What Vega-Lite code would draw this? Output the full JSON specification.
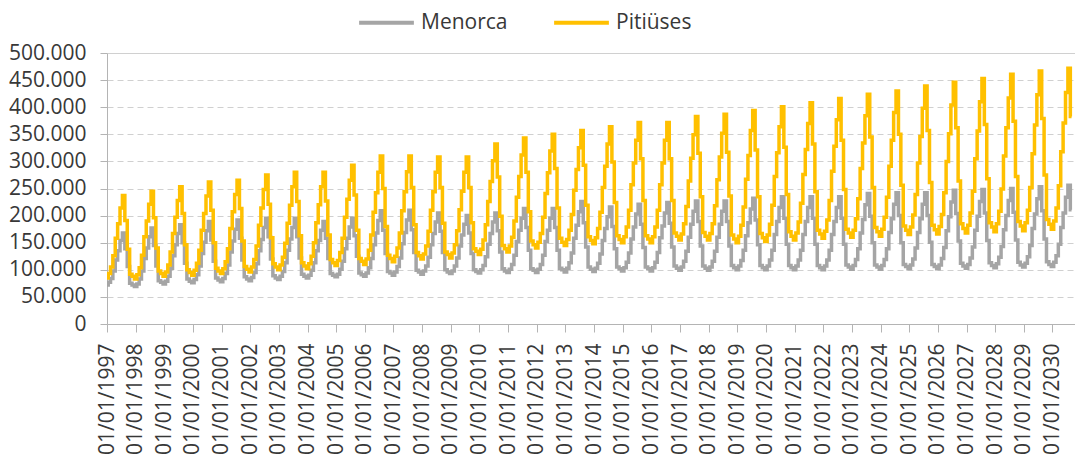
{
"$schema": "https://vega.github.io/schema/vega-lite/v6.json",
"width": 968, "height": 271,
"autosize": {"type": "none"},
"padding": {"left": 107, "top": 53, "right": 0, "bottom": 138},
"background": "white",
"config": {"view": {"stroke": null}, "font": "Open Sans"},
"datasets": {"rows": [
{"t":"1997-01","Menorca":72000,"Pitiüses":85000},{"t":"1997-02","Menorca":77000,"Pitiüses":93000},{"t":"1997-03","Menorca":84000,"Pitiüses":105000},{"t":"1997-04","Menorca":98000,"Pitiüses":126000},{"t":"1997-05","Menorca":118000,"Pitiüses":158000},{"t":"1997-06","Menorca":135000,"Pitiüses":185000},{"t":"1997-07","Menorca":154000,"Pitiüses":214000},{"t":"1997-08","Menorca":168000,"Pitiüses":237000},{"t":"1997-09","Menorca":139000,"Pitiüses":191000},{"t":"1997-10","Menorca":106000,"Pitiüses":138000},{"t":"1997-11","Menorca":75000,"Pitiüses":92000},{"t":"1997-12","Menorca":72000,"Pitiüses":88000},
{"t":"1998-01","Menorca":69000,"Pitiüses":83000},{"t":"1998-02","Menorca":74000,"Pitiüses":91000},{"t":"1998-03","Menorca":83000,"Pitiüses":104000},{"t":"1998-04","Menorca":98000,"Pitiüses":127000},{"t":"1998-05","Menorca":121000,"Pitiüses":161000},{"t":"1998-06","Menorca":140000,"Pitiüses":190000},{"t":"1998-07","Menorca":161000,"Pitiüses":221000},{"t":"1998-08","Menorca":177000,"Pitiüses":245000},{"t":"1998-09","Menorca":145000,"Pitiüses":196000},{"t":"1998-10","Menorca":107000,"Pitiüses":140000},{"t":"1998-11","Menorca":80000,"Pitiüses":98000},{"t":"1998-12","Menorca":77000,"Pitiüses":93000},
{"t":"1999-01","Menorca":74000,"Pitiüses":88000},{"t":"1999-02","Menorca":79000,"Pitiüses":96000},{"t":"1999-03","Menorca":88000,"Pitiüses":109000},{"t":"1999-04","Menorca":103000,"Pitiüses":133000},{"t":"1999-05","Menorca":126000,"Pitiüses":167000},{"t":"1999-06","Menorca":146000,"Pitiüses":197000},{"t":"1999-07","Menorca":167000,"Pitiüses":228000},{"t":"1999-08","Menorca":183000,"Pitiüses":253000},{"t":"1999-09","Menorca":150000,"Pitiüses":204000},{"t":"1999-10","Menorca":112000,"Pitiüses":146000},{"t":"1999-11","Menorca":83000,"Pitiüses":100000},{"t":"1999-12","Menorca":79000,"Pitiüses":95000},
{"t":"2000-01","Menorca":76000,"Pitiüses":90000},{"t":"2000-02","Menorca":82000,"Pitiüses":99000},{"t":"2000-03","Menorca":91000,"Pitiüses":112000},{"t":"2000-04","Menorca":107000,"Pitiüses":136000},{"t":"2000-05","Menorca":130000,"Pitiüses":173000},{"t":"2000-06","Menorca":151000,"Pitiüses":204000},{"t":"2000-07","Menorca":172000,"Pitiüses":236000},{"t":"2000-08","Menorca":189000,"Pitiüses":262000},{"t":"2000-09","Menorca":155000,"Pitiüses":210000},{"t":"2000-10","Menorca":116000,"Pitiüses":150000},{"t":"2000-11","Menorca":85000,"Pitiüses":103000},{"t":"2000-12","Menorca":81000,"Pitiüses":98000},
{"t":"2001-01","Menorca":78000,"Pitiüses":93000},{"t":"2001-02","Menorca":84000,"Pitiüses":102000},{"t":"2001-03","Menorca":93000,"Pitiüses":115000},{"t":"2001-04","Menorca":109000,"Pitiüses":139000},{"t":"2001-05","Menorca":133000,"Pitiüses":176000},{"t":"2001-06","Menorca":153000,"Pitiüses":207000},{"t":"2001-07","Menorca":175000,"Pitiüses":239000},{"t":"2001-08","Menorca":192000,"Pitiüses":265000},{"t":"2001-09","Menorca":158000,"Pitiüses":213000},{"t":"2001-10","Menorca":118000,"Pitiüses":153000},{"t":"2001-11","Menorca":87000,"Pitiüses":106000},{"t":"2001-12","Menorca":83000,"Pitiüses":101000},
{"t":"2002-01","Menorca":80000,"Pitiüses":96000},{"t":"2002-02","Menorca":86000,"Pitiüses":105000},{"t":"2002-03","Menorca":95000,"Pitiüses":119000},{"t":"2002-04","Menorca":111000,"Pitiüses":144000},{"t":"2002-05","Menorca":135000,"Pitiüses":182000},{"t":"2002-06","Menorca":156000,"Pitiüses":214000},{"t":"2002-07","Menorca":178000,"Pitiüses":248000},{"t":"2002-08","Menorca":195000,"Pitiüses":275000},{"t":"2002-09","Menorca":161000,"Pitiüses":221000},{"t":"2002-10","Menorca":120000,"Pitiüses":159000},{"t":"2002-11","Menorca":89000,"Pitiüses":111000},{"t":"2002-12","Menorca":85000,"Pitiüses":105000},
{"t":"2003-01","Menorca":82000,"Pitiüses":100000},{"t":"2003-02","Menorca":88000,"Pitiüses":109000},{"t":"2003-03","Menorca":97000,"Pitiüses":123000},{"t":"2003-04","Menorca":113000,"Pitiüses":149000},{"t":"2003-05","Menorca":136000,"Pitiüses":186000},{"t":"2003-06","Menorca":157000,"Pitiüses":219000},{"t":"2003-07","Menorca":178000,"Pitiüses":253000},{"t":"2003-08","Menorca":195000,"Pitiüses":280000},{"t":"2003-09","Menorca":161000,"Pitiüses":226000},{"t":"2003-10","Menorca":122000,"Pitiüses":163000},{"t":"2003-11","Menorca":92000,"Pitiüses":113000},{"t":"2003-12","Menorca":88000,"Pitiüses":107000},
{"t":"2004-01","Menorca":85000,"Pitiüses":102000},{"t":"2004-02","Menorca":90000,"Pitiüses":111000},{"t":"2004-03","Menorca":99000,"Pitiüses":125000},{"t":"2004-04","Menorca":113000,"Pitiüses":150000},{"t":"2004-05","Menorca":135000,"Pitiüses":187000},{"t":"2004-06","Menorca":154000,"Pitiüses":220000},{"t":"2004-07","Menorca":173000,"Pitiüses":253000},{"t":"2004-08","Menorca":189000,"Pitiüses":280000},{"t":"2004-09","Menorca":158000,"Pitiüses":227000},{"t":"2004-10","Menorca":121000,"Pitiüses":164000},{"t":"2004-11","Menorca":93000,"Pitiüses":119000},{"t":"2004-12","Menorca":90000,"Pitiüses":113000},
{"t":"2005-01","Menorca":87000,"Pitiüses":108000},{"t":"2005-02","Menorca":92000,"Pitiüses":117000},{"t":"2005-03","Menorca":101000,"Pitiüses":132000},{"t":"2005-04","Menorca":116000,"Pitiüses":158000},{"t":"2005-05","Menorca":139000,"Pitiüses":197000},{"t":"2005-06","Menorca":158000,"Pitiüses":230000},{"t":"2005-07","Menorca":179000,"Pitiüses":265000},{"t":"2005-08","Menorca":195000,"Pitiüses":293000},{"t":"2005-09","Menorca":163000,"Pitiüses":238000},{"t":"2005-10","Menorca":125000,"Pitiüses":173000},{"t":"2005-11","Menorca":94000,"Pitiüses":121000},{"t":"2005-12","Menorca":91000,"Pitiüses":116000},
{"t":"2006-01","Menorca":88000,"Pitiüses":110000},{"t":"2006-02","Menorca":94000,"Pitiüses":120000},{"t":"2006-03","Menorca":104000,"Pitiüses":136000},{"t":"2006-04","Menorca":121000,"Pitiüses":164000},{"t":"2006-05","Menorca":146000,"Pitiüses":206000},{"t":"2006-06","Menorca":168000,"Pitiüses":242000},{"t":"2006-07","Menorca":191000,"Pitiüses":280000},{"t":"2006-08","Menorca":209000,"Pitiüses":310000},{"t":"2006-09","Menorca":173000,"Pitiüses":250000},{"t":"2006-10","Menorca":130000,"Pitiüses":180000},{"t":"2006-11","Menorca":97000,"Pitiüses":127000},{"t":"2006-12","Menorca":94000,"Pitiüses":121000},
{"t":"2007-01","Menorca":90000,"Pitiüses":115000},{"t":"2007-02","Menorca":96000,"Pitiüses":125000},{"t":"2007-03","Menorca":106000,"Pitiüses":140000},{"t":"2007-04","Menorca":122000,"Pitiüses":168000},{"t":"2007-05","Menorca":148000,"Pitiüses":209000},{"t":"2007-06","Menorca":169000,"Pitiüses":244000},{"t":"2007-07","Menorca":192000,"Pitiüses":281000},{"t":"2007-08","Menorca":210000,"Pitiüses":310000},{"t":"2007-09","Menorca":174000,"Pitiüses":252000},{"t":"2007-10","Menorca":132000,"Pitiüses":183000},{"t":"2007-11","Menorca":99000,"Pitiüses":132000},{"t":"2007-12","Menorca":96000,"Pitiüses":126000},
{"t":"2008-01","Menorca":92000,"Pitiüses":120000},{"t":"2008-02","Menorca":98000,"Pitiüses":129000},{"t":"2008-03","Menorca":107000,"Pitiüses":144000},{"t":"2008-04","Menorca":123000,"Pitiüses":171000},{"t":"2008-05","Menorca":146000,"Pitiüses":210000},{"t":"2008-06","Menorca":167000,"Pitiüses":244000},{"t":"2008-07","Menorca":188000,"Pitiüses":280000},{"t":"2008-08","Menorca":205000,"Pitiüses":308000},{"t":"2008-09","Menorca":171000,"Pitiüses":252000},{"t":"2008-10","Menorca":132000,"Pitiüses":186000},{"t":"2008-11","Menorca":100000,"Pitiüses":133000},{"t":"2008-12","Menorca":96000,"Pitiüses":128000},
{"t":"2009-01","Menorca":93000,"Pitiüses":122000},{"t":"2009-02","Menorca":98000,"Pitiüses":131000},{"t":"2009-03","Menorca":107000,"Pitiüses":146000},{"t":"2009-04","Menorca":122000,"Pitiüses":172000},{"t":"2009-05","Menorca":144000,"Pitiüses":211000},{"t":"2009-06","Menorca":164000,"Pitiüses":245000},{"t":"2009-07","Menorca":184000,"Pitiüses":280000},{"t":"2009-08","Menorca":200000,"Pitiüses":308000},{"t":"2009-09","Menorca":168000,"Pitiüses":252000},{"t":"2009-10","Menorca":130000,"Pitiüses":187000},{"t":"2009-11","Menorca":100000,"Pitiüses":139000},{"t":"2009-12","Menorca":97000,"Pitiüses":134000},
{"t":"2010-01","Menorca":94000,"Pitiüses":128000},{"t":"2010-02","Menorca":100000,"Pitiüses":138000},{"t":"2010-03","Menorca":108000,"Pitiüses":155000},{"t":"2010-04","Menorca":124000,"Pitiüses":183000},{"t":"2010-05","Menorca":147000,"Pitiüses":226000},{"t":"2010-06","Menorca":167000,"Pitiüses":263000},{"t":"2010-07","Menorca":188000,"Pitiüses":301000},{"t":"2010-08","Menorca":205000,"Pitiüses":332000},{"t":"2010-09","Menorca":172000,"Pitiüses":271000},{"t":"2010-10","Menorca":133000,"Pitiüses":199000},{"t":"2010-11","Menorca":102000,"Pitiüses":145000},{"t":"2010-12","Menorca":98000,"Pitiüses":139000},
{"t":"2011-01","Menorca":95000,"Pitiüses":133000},{"t":"2011-02","Menorca":101000,"Pitiüses":144000},{"t":"2011-03","Menorca":110000,"Pitiüses":160000},{"t":"2011-04","Menorca":127000,"Pitiüses":190000},{"t":"2011-05","Menorca":152000,"Pitiüses":234000},{"t":"2011-06","Menorca":173000,"Pitiüses":272000},{"t":"2011-07","Menorca":195000,"Pitiüses":312000},{"t":"2011-08","Menorca":213000,"Pitiüses":343000},{"t":"2011-09","Menorca":178000,"Pitiüses":280000},{"t":"2011-10","Menorca":136000,"Pitiüses":207000},{"t":"2011-11","Menorca":102000,"Pitiüses":153000},{"t":"2011-12","Menorca":99000,"Pitiüses":146000},
{"t":"2012-01","Menorca":95000,"Pitiüses":140000},{"t":"2012-02","Menorca":101000,"Pitiüses":151000},{"t":"2012-03","Menorca":110000,"Pitiüses":167000},{"t":"2012-04","Menorca":127000,"Pitiüses":197000},{"t":"2012-05","Menorca":152000,"Pitiüses":241000},{"t":"2012-06","Menorca":173000,"Pitiüses":279000},{"t":"2012-07","Menorca":195000,"Pitiüses":319000},{"t":"2012-08","Menorca":213000,"Pitiüses":350000},{"t":"2012-09","Menorca":178000,"Pitiüses":287000},{"t":"2012-10","Menorca":136000,"Pitiüses":214000},{"t":"2012-11","Menorca":103000,"Pitiüses":158000},{"t":"2012-12","Menorca":100000,"Pitiüses":151000},
{"t":"2013-01","Menorca":96000,"Pitiüses":145000},{"t":"2013-02","Menorca":103000,"Pitiüses":156000},{"t":"2013-03","Menorca":113000,"Pitiüses":173000},{"t":"2013-04","Menorca":131000,"Pitiüses":202000},{"t":"2013-05","Menorca":158000,"Pitiüses":247000},{"t":"2013-06","Menorca":182000,"Pitiüses":285000},{"t":"2013-07","Menorca":207000,"Pitiüses":325000},{"t":"2013-08","Menorca":226000,"Pitiüses":357000},{"t":"2013-09","Menorca":187000,"Pitiüses":293000},{"t":"2013-10","Menorca":142000,"Pitiüses":219000},{"t":"2013-11","Menorca":105000,"Pitiüses":161000},{"t":"2013-12","Menorca":101000,"Pitiüses":154000},
{"t":"2014-01","Menorca":97000,"Pitiüses":148000},{"t":"2014-02","Menorca":103000,"Pitiüses":159000},{"t":"2014-03","Menorca":112000,"Pitiüses":176000},{"t":"2014-04","Menorca":129000,"Pitiüses":206000},{"t":"2014-05","Menorca":154000,"Pitiüses":252000},{"t":"2014-06","Menorca":176000,"Pitiüses":291000},{"t":"2014-07","Menorca":198000,"Pitiüses":332000},{"t":"2014-08","Menorca":216000,"Pitiüses":364000},{"t":"2014-09","Menorca":180000,"Pitiüses":299000},{"t":"2014-10","Menorca":139000,"Pitiüses":224000},{"t":"2014-11","Menorca":105000,"Pitiüses":163000},{"t":"2014-12","Menorca":102000,"Pitiüses":156000},
{"t":"2015-01","Menorca":98000,"Pitiüses":150000},{"t":"2015-02","Menorca":104000,"Pitiüses":161000},{"t":"2015-03","Menorca":114000,"Pitiüses":179000},{"t":"2015-04","Menorca":131000,"Pitiüses":210000},{"t":"2015-05","Menorca":157000,"Pitiüses":257000},{"t":"2015-06","Menorca":179000,"Pitiüses":297000},{"t":"2015-07","Menorca":203000,"Pitiüses":339000},{"t":"2015-08","Menorca":221000,"Pitiüses":372000},{"t":"2015-09","Menorca":184000,"Pitiüses":305000},{"t":"2015-10","Menorca":141000,"Pitiüses":228000},{"t":"2015-11","Menorca":105000,"Pitiüses":163000},{"t":"2015-12","Menorca":102000,"Pitiüses":157000},
{"t":"2016-01","Menorca":98000,"Pitiüses":150000},{"t":"2016-02","Menorca":104000,"Pitiüses":161000},{"t":"2016-03","Menorca":114000,"Pitiüses":179000},{"t":"2016-04","Menorca":132000,"Pitiüses":210000},{"t":"2016-05","Menorca":159000,"Pitiüses":257000},{"t":"2016-06","Menorca":181000,"Pitiüses":297000},{"t":"2016-07","Menorca":205000,"Pitiüses":339000},{"t":"2016-08","Menorca":224000,"Pitiüses":372000},{"t":"2016-09","Menorca":186000,"Pitiüses":305000},{"t":"2016-10","Menorca":142000,"Pitiüses":228000},{"t":"2016-11","Menorca":107000,"Pitiüses":168000},{"t":"2016-12","Menorca":103000,"Pitiüses":162000},
{"t":"2017-01","Menorca":99000,"Pitiüses":155000},{"t":"2017-02","Menorca":105000,"Pitiüses":166000},{"t":"2017-03","Menorca":116000,"Pitiüses":185000},{"t":"2017-04","Menorca":134000,"Pitiüses":217000},{"t":"2017-05","Menorca":160000,"Pitiüses":264000},{"t":"2017-06","Menorca":184000,"Pitiüses":306000},{"t":"2017-07","Menorca":208000,"Pitiüses":349000},{"t":"2017-08","Menorca":227000,"Pitiüses":383000},{"t":"2017-09","Menorca":189000,"Pitiüses":315000},{"t":"2017-10","Menorca":144000,"Pitiüses":235000},{"t":"2017-11","Menorca":107000,"Pitiüses":169000},{"t":"2017-12","Menorca":103000,"Pitiüses":162000},
{"t":"2018-01","Menorca":99000,"Pitiüses":155000},{"t":"2018-02","Menorca":105000,"Pitiüses":167000},{"t":"2018-03","Menorca":116000,"Pitiüses":185000},{"t":"2018-04","Menorca":134000,"Pitiüses":218000},{"t":"2018-05","Menorca":160000,"Pitiüses":266000},{"t":"2018-06","Menorca":184000,"Pitiüses":308000},{"t":"2018-07","Menorca":208000,"Pitiüses":352000},{"t":"2018-08","Menorca":227000,"Pitiüses":387000},{"t":"2018-09","Menorca":189000,"Pitiüses":317000},{"t":"2018-10","Menorca":144000,"Pitiüses":236000},{"t":"2018-11","Menorca":108000,"Pitiüses":164000},{"t":"2018-12","Menorca":104000,"Pitiüses":157000},
{"t":"2019-01","Menorca":100000,"Pitiüses":150000},{"t":"2019-02","Menorca":107000,"Pitiüses":162000},{"t":"2019-03","Menorca":117000,"Pitiüses":182000},{"t":"2019-04","Menorca":136000,"Pitiüses":216000},{"t":"2019-05","Menorca":163000,"Pitiüses":267000},{"t":"2019-06","Menorca":187000,"Pitiüses":311000},{"t":"2019-07","Menorca":212000,"Pitiüses":357000},{"t":"2019-08","Menorca":232000,"Pitiüses":394000},{"t":"2019-09","Menorca":192000,"Pitiüses":321000},{"t":"2019-10","Menorca":146000,"Pitiüses":235000},{"t":"2019-11","Menorca":108000,"Pitiüses":167000},{"t":"2019-12","Menorca":104000,"Pitiüses":159000},
{"t":"2020-01","Menorca":100000,"Pitiüses":152000},{"t":"2020-02","Menorca":107000,"Pitiüses":164000},{"t":"2020-03","Menorca":118000,"Pitiüses":184000},{"t":"2020-04","Menorca":136000,"Pitiüses":219000},{"t":"2020-05","Menorca":165000,"Pitiüses":272000},{"t":"2020-06","Menorca":189000,"Pitiüses":316000},{"t":"2020-07","Menorca":215000,"Pitiüses":364000},{"t":"2020-08","Menorca":235000,"Pitiüses":401000},{"t":"2020-09","Menorca":195000,"Pitiüses":326000},{"t":"2020-10","Menorca":147000,"Pitiüses":239000},{"t":"2020-11","Menorca":108000,"Pitiüses":170000},{"t":"2020-12","Menorca":104000,"Pitiüses":162000},
{"t":"2021-01","Menorca":100000,"Pitiüses":155000},{"t":"2021-02","Menorca":107000,"Pitiüses":168000},{"t":"2021-03","Menorca":118000,"Pitiüses":188000},{"t":"2021-04","Menorca":136000,"Pitiüses":223000},{"t":"2021-05","Menorca":165000,"Pitiüses":276000},{"t":"2021-06","Menorca":189000,"Pitiüses":322000},{"t":"2021-07","Menorca":215000,"Pitiüses":370000},{"t":"2021-08","Menorca":235000,"Pitiüses":408000},{"t":"2021-09","Menorca":195000,"Pitiüses":332000},{"t":"2021-10","Menorca":147000,"Pitiüses":244000},{"t":"2021-11","Menorca":108000,"Pitiüses":173000},{"t":"2021-12","Menorca":104000,"Pitiüses":166000},
{"t":"2022-01","Menorca":100000,"Pitiüses":158000},{"t":"2022-02","Menorca":107000,"Pitiüses":171000},{"t":"2022-03","Menorca":118000,"Pitiüses":192000},{"t":"2022-04","Menorca":136000,"Pitiüses":228000},{"t":"2022-05","Menorca":165000,"Pitiüses":282000},{"t":"2022-06","Menorca":189000,"Pitiüses":328000},{"t":"2022-07","Menorca":215000,"Pitiüses":377000},{"t":"2022-08","Menorca":235000,"Pitiüses":416000},{"t":"2022-09","Menorca":195000,"Pitiüses":339000},{"t":"2022-10","Menorca":147000,"Pitiüses":248000},{"t":"2022-11","Menorca":109000,"Pitiüses":175000},{"t":"2022-12","Menorca":105000,"Pitiüses":168000},
{"t":"2023-01","Menorca":101000,"Pitiüses":160000},{"t":"2023-02","Menorca":108000,"Pitiüses":173000},{"t":"2023-03","Menorca":119000,"Pitiüses":194000},{"t":"2023-04","Menorca":139000,"Pitiüses":231000},{"t":"2023-05","Menorca":168000,"Pitiüses":287000},{"t":"2023-06","Menorca":193000,"Pitiüses":334000},{"t":"2023-07","Menorca":220000,"Pitiüses":384000},{"t":"2023-08","Menorca":241000,"Pitiüses":424000},{"t":"2023-09","Menorca":199000,"Pitiüses":345000},{"t":"2023-10","Menorca":150000,"Pitiüses":252000},{"t":"2023-11","Menorca":109000,"Pitiüses":178000},{"t":"2023-12","Menorca":105000,"Pitiüses":170000},
{"t":"2024-01","Menorca":101000,"Pitiüses":162000},{"t":"2024-02","Menorca":108000,"Pitiüses":175000},{"t":"2024-03","Menorca":119000,"Pitiüses":197000},{"t":"2024-04","Menorca":139000,"Pitiüses":234000},{"t":"2024-05","Menorca":169000,"Pitiüses":291000},{"t":"2024-06","Menorca":194000,"Pitiüses":339000},{"t":"2024-07","Menorca":221000,"Pitiüses":390000},{"t":"2024-08","Menorca":242000,"Pitiüses":430000},{"t":"2024-09","Menorca":200000,"Pitiüses":350000},{"t":"2024-10","Menorca":150000,"Pitiüses":256000},{"t":"2024-11","Menorca":110000,"Pitiüses":181000},{"t":"2024-12","Menorca":106000,"Pitiüses":173000},
{"t":"2025-01","Menorca":102000,"Pitiüses":165000},{"t":"2025-02","Menorca":109000,"Pitiüses":179000},{"t":"2025-03","Menorca":120000,"Pitiüses":201000},{"t":"2025-04","Menorca":140000,"Pitiüses":239000},{"t":"2025-05","Menorca":169000,"Pitiüses":297000},{"t":"2025-06","Menorca":194000,"Pitiüses":346000},{"t":"2025-07","Menorca":221000,"Pitiüses":398000},{"t":"2025-08","Menorca":242000,"Pitiüses":439000},{"t":"2025-09","Menorca":200000,"Pitiüses":357000},{"t":"2025-10","Menorca":151000,"Pitiüses":261000},{"t":"2025-11","Menorca":110000,"Pitiüses":182000},{"t":"2025-12","Menorca":106000,"Pitiüses":174000},
{"t":"2026-01","Menorca":102000,"Pitiüses":166000},{"t":"2026-02","Menorca":109000,"Pitiüses":180000},{"t":"2026-03","Menorca":121000,"Pitiüses":202000},{"t":"2026-04","Menorca":141000,"Pitiüses":242000},{"t":"2026-05","Menorca":172000,"Pitiüses":300000},{"t":"2026-06","Menorca":198000,"Pitiüses":351000},{"t":"2026-07","Menorca":225000,"Pitiüses":404000},{"t":"2026-08","Menorca":247000,"Pitiüses":446000},{"t":"2026-09","Menorca":204000,"Pitiüses":362000},{"t":"2026-10","Menorca":153000,"Pitiüses":264000},{"t":"2026-11","Menorca":112000,"Pitiüses":185000},{"t":"2026-12","Menorca":107000,"Pitiüses":176000},
{"t":"2027-01","Menorca":103000,"Pitiüses":168000},{"t":"2027-02","Menorca":110000,"Pitiüses":182000},{"t":"2027-03","Menorca":122000,"Pitiüses":205000},{"t":"2027-04","Menorca":142000,"Pitiüses":245000},{"t":"2027-05","Menorca":173000,"Pitiüses":305000},{"t":"2027-06","Menorca":199000,"Pitiüses":356000},{"t":"2027-07","Menorca":226000,"Pitiüses":410000},{"t":"2027-08","Menorca":248000,"Pitiüses":453000},{"t":"2027-09","Menorca":205000,"Pitiüses":368000},{"t":"2027-10","Menorca":154000,"Pitiüses":268000},{"t":"2027-11","Menorca":113000,"Pitiüses":187000},{"t":"2027-12","Menorca":108000,"Pitiüses":179000},
{"t":"2028-01","Menorca":104000,"Pitiüses":170000},{"t":"2028-02","Menorca":111000,"Pitiüses":185000},{"t":"2028-03","Menorca":123000,"Pitiüses":208000},{"t":"2028-04","Menorca":143000,"Pitiüses":249000},{"t":"2028-05","Menorca":174000,"Pitiüses":310000},{"t":"2028-06","Menorca":200000,"Pitiüses":362000},{"t":"2028-07","Menorca":228000,"Pitiüses":417000},{"t":"2028-08","Menorca":250000,"Pitiüses":461000},{"t":"2028-09","Menorca":206000,"Pitiüses":374000},{"t":"2028-10","Menorca":155000,"Pitiüses":272000},{"t":"2028-11","Menorca":114000,"Pitiüses":189000},{"t":"2028-12","Menorca":109000,"Pitiüses":181000},
{"t":"2029-01","Menorca":105000,"Pitiüses":172000},{"t":"2029-02","Menorca":112000,"Pitiüses":187000},{"t":"2029-03","Menorca":124000,"Pitiüses":210000},{"t":"2029-04","Menorca":145000,"Pitiüses":252000},{"t":"2029-05","Menorca":176000,"Pitiüses":314000},{"t":"2029-06","Menorca":203000,"Pitiüses":367000},{"t":"2029-07","Menorca":231000,"Pitiüses":423000},{"t":"2029-08","Menorca":253000,"Pitiüses":467000},{"t":"2029-09","Menorca":209000,"Pitiüses":379000},{"t":"2029-10","Menorca":157000,"Pitiüses":275000},{"t":"2029-11","Menorca":115000,"Pitiüses":193000},{"t":"2029-12","Menorca":110000,"Pitiüses":184000},
{"t":"2030-01","Menorca":106000,"Pitiüses":175000},{"t":"2030-02","Menorca":114000,"Pitiüses":190000},{"t":"2030-03","Menorca":126000,"Pitiüses":214000},{"t":"2030-04","Menorca":147000,"Pitiüses":255000},{"t":"2030-05","Menorca":178000,"Pitiüses":318000},{"t":"2030-06","Menorca":205000,"Pitiüses":371000},{"t":"2030-07","Menorca":234000,"Pitiüses":427000},{"t":"2030-08","Menorca":256000,"Pitiüses":472000},{"t":"2030-09","Menorca":211000,"Pitiüses":383000}
]},
"data": {"name": "rows", "format": {"parse": {"t": "date:'%Y-%m'"}}},
"transform": [{"fold": ["Menorca", "Pitiüses"], "as": ["serie", "v"]}],
"mark": {"type": "line", "strokeWidth": 3.5, "interpolate": "step", "clip": true},
"encoding": {
  "x": {"field": "t", "type": "temporal",
    "scale": {"domain": [{"year": 1997, "month": 1, "date": 1}, {"year": 2030, "month": 10, "date": 15}]},
    "axis": {"title": null, "format": "%d/%m/%Y", "labelAngle": -90, "labelAlign": "right", "labelBaseline": "middle",
      "tickCount": {"interval": "year", "step": 1}, "grid": false, "labelOverlap": false, "labelFlush": false,
      "domainColor": "#b4b4b4", "tickColor": "#b4b4b4", "tickSize": 8, "labelPadding": 11,
      "labelFont": "Open Sans", "labelFontSize": 21, "labelColor": "#383838"}},
  "y": {"field": "v", "type": "quantitative",
    "scale": {"domain": [0, 500000]},
    "axis": {"title": null, "values": [0, 50000, 100000, 150000, 200000, 250000, 300000, 350000, 400000, 450000, 500000],
      "labelExpr": "replace(format(datum.value, ','), ',', '.')",
      "gridColor": "#d0d0d0", "gridDash": {"condition": {"test": "datum.value === 500000", "value": []}, "value": [6, 4]},
      "domainColor": "#b4b4b4", "tickColor": "#b4b4b4", "tickSize": 7, "labelPadding": 14,
      "labelFont": "Open Sans", "labelFontSize": 21, "labelColor": "#383838"}},
  "color": {"field": "serie", "type": "nominal",
    "scale": {"domain": ["Menorca", "Pitiüses"], "range": ["#A5A5A5", "#FFC000"]},
    "legend": {"orient": "none", "legendX": 250, "legendY": -60, "direction": "horizontal", "title": null,
      "symbolType": "stroke", "symbolSize": 3000, "symbolStrokeWidth": 4, "labelFont": "Open Sans",
      "labelFontSize": 21, "labelColor": "#383838", "columnPadding": 38, "labelOffset": 5}}
}
}
